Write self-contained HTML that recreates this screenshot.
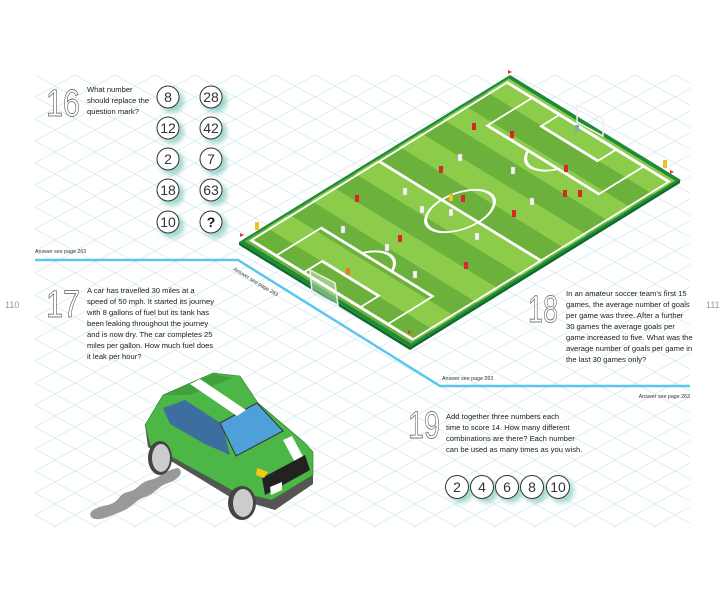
<!DOCTYPE html>
<html><head><meta charset="utf-8"><style>
html,body{margin:0;padding:0;background:#fff;}
svg{display:block;font-family:"Liberation Sans",sans-serif;}
.t{font-size:7.6px;fill:#222;}
.a{font-size:5.3px;fill:#333;}
.big{font-size:38px;fill:#fff;stroke:#555;stroke-width:0.7;font-weight:300;}
.n{font-size:14px;fill:#333;text-anchor:middle;}
</style></head><body>
<svg width="725" height="600" viewBox="0 0 725 600" xmlns="http://www.w3.org/2000/svg">
<defs>
<pattern id="g" width="40" height="22" patternUnits="userSpaceOnUse" x="35" y="75">
<path d="M0 0L40 22M0 22L40 0" stroke="#cbe8f2" stroke-width="0.7" fill="none"/>
</pattern>
<filter id="bl" x="-50%" y="-50%" width="200%" height="200%"><feGaussianBlur stdDeviation="2.5"/></filter>
</defs>
<rect x="35" y="75" width="655" height="452" fill="url(#g)"/>

<polyline points="35,260 238,260 440,386 690,386" fill="none" stroke="#5ec5ef" stroke-width="2.5"/>
<text class="a" x="35" y="253">Answer see page 263</text>
<text class="a" x="233" y="270" transform="rotate(31 233 270)">Answer see page 263</text>
<text class="a" x="442" y="380">Answer see page 263</text>
<text class="a" x="690" y="398" text-anchor="end">Answer see page 263</text>
<text x="5" y="308" style="font-size:9px;fill:#999">110</text>
<text x="706" y="308" style="font-size:9px;fill:#999">111</text>

<polygon points="239,242 239,245 410,350 680,183 680,180 410,347" fill="#0d6b2a"/>
<g transform="matrix(2.71,-1.67,1.71,1.05,239,242)">
<rect x="0" y="0" width="100" height="100" fill="#1f8a37"/>
<g transform="translate(1.3,1.3) scale(0.974)">
<rect x="0" y="0" width="100" height="100" fill="#8ccc4a"/>
<g fill="#6cb13c">
<rect x="0" y="0" width="8.33" height="100"/><rect x="16.66" y="0" width="8.33" height="100"/>
<rect x="33.33" y="0" width="8.33" height="100"/><rect x="50" y="0" width="8.33" height="100"/>
<rect x="66.66" y="0" width="8.33" height="100"/><rect x="83.33" y="0" width="8.33" height="100"/>
</g>
<g fill="none" stroke="#fff" stroke-width="1" vector-effect="non-scaling-stroke">
<rect x="1.5" y="1.5" width="97" height="97"/>
<line x1="50" y1="1.5" x2="50" y2="98.5"/>
<circle cx="50" cy="50" r="11"/>
<rect x="1.5" y="16.5" width="17" height="67"/>
<rect x="1.5" y="33" width="7" height="34"/>
<rect x="81.5" y="16.5" width="17" height="67"/>
<rect x="91.5" y="33" width="7" height="34"/>
<path d="M18.5 41 A11 11 0 0 1 18.5 59"/>
<path d="M81.5 41 A11 11 0 0 0 81.5 59"/>
</g>
</g>
</g>
<g stroke="#eee" stroke-width="1.5" fill="rgba(255,255,255,0.35)">
<polygon points="310,270 335,283 338,305 312,292"/>
<polygon points="577,105 603,119 603,136 577,122" fill="none"/>
</g>
<g>
<g fill="#d8282a">
<rect x="472" y="123" width="4" height="7"/><rect x="510" y="131" width="4" height="7"/>
<rect x="439" y="166" width="4" height="7"/><rect x="564" y="165" width="4" height="7"/>
<rect x="355" y="195" width="4" height="7"/><rect x="461" y="195" width="4" height="7"/>
<rect x="578" y="190" width="4" height="7"/><rect x="512" y="210" width="4" height="7"/>
<rect x="398" y="235" width="4" height="7"/><rect x="464" y="262" width="4" height="7"/>
<rect x="563" y="190" width="4" height="7"/></g>
<g fill="#f4f4f4" stroke="#bbb" stroke-width="0.4">
<rect x="458" y="154" width="4" height="7"/><rect x="511" y="167" width="4" height="7"/>
<rect x="403" y="188" width="4" height="7"/><rect x="449" y="209" width="4" height="7"/>
<rect x="420" y="206" width="4" height="7"/><rect x="530" y="198" width="4" height="7"/>
<rect x="341" y="226" width="4" height="7"/><rect x="385" y="244" width="4" height="7"/>
<rect x="475" y="233" width="4" height="7"/><rect x="413" y="271" width="4" height="7"/></g>
<g fill="#f3c124"><rect x="449" y="194" width="4" height="7"/><rect x="255" y="222" width="4" height="8"/><rect x="663" y="160" width="4" height="8"/></g>
<rect x="346" y="268" width="4" height="7" fill="#e9762a"/>
<rect x="575" y="125" width="4" height="7" fill="#8aa"/>
</g>
<g fill="#e33"><polygon points="508,70 512,72 508,74"/><polygon points="408,330 412,332 408,334"/><polygon points="240,233 244,235 240,237"/><polygon points="670,170 674,172 670,174"/></g>

<text class="big" x="46" y="116" textLength="34" lengthAdjust="spacingAndGlyphs">16</text>
<text class="t" x="87" y="92">What number</text>
<text class="t" x="87" y="103">should replace the</text>
<text class="t" x="87" y="114">question mark?</text>
<g fill="#5bb8a8" opacity="0.55" filter="url(#bl)">
<circle cx="172" cy="101" r="12"/><circle cx="215" cy="101" r="12"/>
<circle cx="172" cy="132" r="12"/><circle cx="215" cy="132" r="12"/>
<circle cx="172" cy="163" r="12"/><circle cx="215" cy="163" r="12"/>
<circle cx="172" cy="194" r="12"/><circle cx="215" cy="194" r="12"/>
<circle cx="172" cy="226" r="12"/><circle cx="215" cy="226" r="12"/>
</g>
<g fill="#fff" stroke="#333" stroke-width="1">
<circle cx="168" cy="97" r="11"/><circle cx="211" cy="97" r="11"/>
<circle cx="168" cy="128" r="11"/><circle cx="211" cy="128" r="11"/>
<circle cx="168" cy="159" r="11"/><circle cx="211" cy="159" r="11"/>
<circle cx="168" cy="190" r="11"/><circle cx="211" cy="190" r="11"/>
<circle cx="168" cy="222" r="11"/><circle cx="211" cy="222" r="11"/>
</g>
<text class="n" x="168" y="102">8</text><text class="n" x="211" y="102">28</text>
<text class="n" x="168" y="133">12</text><text class="n" x="211" y="133">42</text>
<text class="n" x="168" y="164">2</text><text class="n" x="211" y="164">7</text>
<text class="n" x="168" y="195">18</text><text class="n" x="211" y="195">63</text>
<text class="n" x="168" y="227">10</text><text class="n" x="211" y="227" style="font-weight:bold;fill:#111">?</text>

<text class="big" x="46" y="317" textLength="34" lengthAdjust="spacingAndGlyphs">17</text>
<text class="t" x="87" y="293">A car has travelled 30 miles at a</text>
<text class="t" x="87" y="304">speed of 50 mph. It started its journey</text>
<text class="t" x="87" y="315">with 8 gallons of fuel but its tank has</text>
<text class="t" x="87" y="326">been leaking throughout the journey</text>
<text class="t" x="87" y="337">and is now dry. The car completes 25</text>
<text class="t" x="87" y="348">miles per gallon. How much fuel does</text>
<text class="t" x="87" y="359">it leak per hour?</text>

<path d="M178,468 C165,470 160,478 150,480 C140,482 138,490 128,492 C118,494 120,502 108,505 C96,507 86,512 92,518 C100,522 112,515 120,512 C132,508 135,500 145,497 C155,494 158,486 168,483 C178,480 185,472 178,468Z" fill="#999"/>

<g>
<polygon points="145,425 148,447 230,497 275,510 313,484 313,470 265,495 150,440" fill="#555"/>
<polygon points="163,395 213,373 240,376 258,403 305,443 313,452 313,475 272,500 235,492 150,445 145,425" fill="#4cb647" stroke="#2d7a2b" stroke-width="0.6"/>
<polygon points="164,395 213,374 232,378 190,395" fill="#3fa03c"/>
<polygon points="163,408 185,400 222,424 230,455 205,444 170,424" fill="#3c6fa0"/>
<polygon points="220,423 257,403 283,431 236,456" fill="#4f9fd8" stroke="#333" stroke-width="1"/>
<polygon points="190,384 200,379 246,410 237,416" fill="#fff"/>
<polygon points="283,440 292,436 307,464 298,468" fill="#fff"/>
<polygon points="262,478 305,455 310,470 265,495" fill="#222"/>
<polygon points="270,487 282,482 282,490 271,495" fill="#fff"/>
<polygon points="257,468 268,472 264,478 256,475" fill="#f7c617"/>
<ellipse cx="160" cy="458" rx="12" ry="17" fill="#444"/>
<ellipse cx="161" cy="458" rx="9" ry="14" fill="#ccc"/>
<ellipse cx="242" cy="503" rx="14" ry="17" fill="#444"/>
<ellipse cx="243" cy="503" rx="10" ry="14" fill="#ccc"/>
</g>

<text class="big" x="528" y="322" textLength="30" lengthAdjust="spacingAndGlyphs">18</text>
<text class="t" x="566" y="296">In an amateur soccer team’s first 15</text>
<text class="t" x="566" y="307">games, the average number of goals</text>
<text class="t" x="566" y="318">per game was three. After a further</text>
<text class="t" x="566" y="329">30 games the average goals per</text>
<text class="t" x="566" y="340">game increased to five. What was the</text>
<text class="t" x="566" y="351">average number of goals per game in</text>
<text class="t" x="566" y="362">the last 30 games only?</text>

<text class="big" x="408" y="438" textLength="32" lengthAdjust="spacingAndGlyphs">19</text>
<text class="t" x="446" y="419">Add together three numbers each</text>
<text class="t" x="446" y="430">time to score 14. How many different</text>
<text class="t" x="446" y="441">combinations are there? Each number</text>
<text class="t" x="446" y="452">can be used as many times as you wish.</text>
<g fill="#5bb8a8" opacity="0.55" filter="url(#bl)">
<circle cx="461" cy="491" r="12"/><circle cx="486" cy="491" r="12"/><circle cx="511" cy="491" r="12"/><circle cx="536" cy="491" r="12"/><circle cx="562" cy="491" r="12"/>
</g>
<g fill="#fff" stroke="#333" stroke-width="1">
<circle cx="457" cy="487" r="11.5"/><circle cx="482" cy="487" r="11.5"/><circle cx="507" cy="487" r="11.5"/><circle cx="532" cy="487" r="11.5"/><circle cx="558" cy="487" r="11.5"/>
</g>
<text class="n" x="457" y="492">2</text><text class="n" x="482" y="492">4</text><text class="n" x="507" y="492">6</text><text class="n" x="532" y="492">8</text><text class="n" x="558" y="492">10</text>
</svg>
</body></html>
